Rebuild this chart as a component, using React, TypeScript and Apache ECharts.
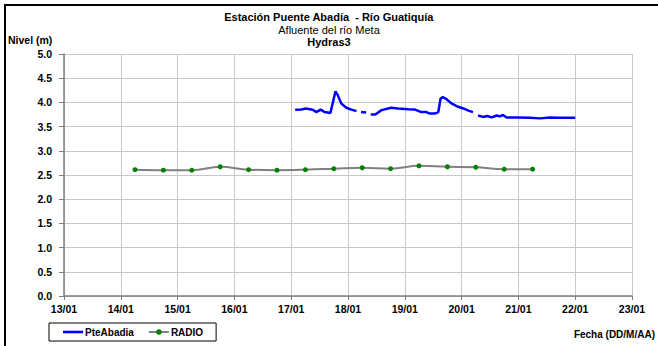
import React, { useEffect, useRef } from "react";
import * as echarts from "echarts";

const xTickDays = [13, 14, 15, 16, 17, 18, 19, 20, 21, 22, 23];
const yTicks = [0, 0.5, 1, 1.5, 2, 2.5, 3, 3.5, 4, 4.5, 5];

// PteAbadia (blue) – day of January, level (m); null = gap
const blueDays = [
  17.07, 17.18, 17.26, 17.38, 17.44, 17.52, 17.59, 17.69, 17.75, 17.78, 17.82, 17.88, 17.97, 18.06, 18.15,
  18.19,
  18.23, 18.32,
  18.36,
  18.40, 18.48, 18.59, 18.76, 18.88, 19.06, 19.17, 19.29, 19.38, 19.44, 19.53, 19.59, 19.63, 19.67, 19.73,
  19.82, 19.94, 20.03, 20.12, 20.20,
  20.25,
  20.29, 20.38, 20.45, 20.53, 20.62, 20.67, 20.73, 20.79, 20.97, 21.20, 21.38, 21.55, 21.73, 22.0,
];
const blueLevels = [
  3.85, 3.855, 3.875, 3.85, 3.8, 3.85, 3.8, 3.78, 4.08, 4.23, 4.15, 3.98, 3.89, 3.85, 3.82,
  null,
  3.8, 3.79,
  null,
  3.75, 3.75, 3.84, 3.89, 3.875, 3.86, 3.855, 3.8, 3.8, 3.77, 3.77, 3.8, 4.08, 4.11, 4.07,
  3.98, 3.91, 3.875, 3.83, 3.8,
  null,
  3.73, 3.7, 3.72, 3.69, 3.73, 3.71, 3.74, 3.69, 3.69, 3.685, 3.67, 3.69, 3.685, 3.685,
];

// RADIO (green points, gray line)
const radioDays = [14.25, 14.75, 15.25, 15.75, 16.25, 16.75, 17.25, 17.75, 18.25, 18.75, 19.25, 19.75, 20.25, 20.75, 21.25];
const radioLevels = [2.61, 2.6, 2.6, 2.67, 2.61, 2.6, 2.61, 2.63, 2.65, 2.63, 2.69, 2.67, 2.66, 2.62, 2.62];

const titleMain = "Estación Puente Abadía  - Río Guatiquía";
const titleSub = "Afluente del río Meta";
const titleThird = "Hydras3";
const yName = "Nivel (m)";
const xName = "Fecha (DD/M/AA)";

const FONT = "'Liberation Sans', Arial, sans-serif";

export default function App() {
  const ref = useRef<HTMLDivElement>(null);
  useEffect(() => {
    document.body.style.margin = "0";
    if (!ref.current) return;
    const chart = echarts.init(ref.current, null, { renderer: "svg" });
    const blueData = blueDays.map((d, i) => [d, blueLevels[i] === null ? "-" : blueLevels[i]]);
    const radioData = radioDays.map((d, i) => [d, radioLevels[i]]);
    chart.setOption({
      animation: false,
      backgroundColor: "#ffffff",
      textStyle: { fontFamily: FONT },
      grid: { left: 64, right: 26, top: 54, bottom: 50, containLabel: false },
      xAxis: {
        type: "value",
        min: xTickDays[0],
        max: xTickDays[xTickDays.length - 1],
        interval: 1,
        axisLine: { show: true, onZero: false, lineStyle: { color: "#7f7f7f", width: 1.5 } },
        axisTick: { show: true, inside: false, length: 4, lineStyle: { color: "#7f7f7f" } },
        axisLabel: {
          margin: 7,
          color: "#000",
          fontWeight: "bold",
          fontSize: 10.5,
          fontFamily: FONT,
          formatter: (v: number) => `${v}/01`,
        },
        splitLine: { show: true, lineStyle: { color: "#c8c8c8", width: 1 } },
      },
      yAxis: {
        type: "value",
        min: yTicks[0],
        max: yTicks[yTicks.length - 1],
        interval: 0.5,
        axisLine: { show: true, lineStyle: { color: "#7f7f7f", width: 1.5 } },
        axisTick: { show: true, inside: false, length: 5, lineStyle: { color: "#7f7f7f" } },
        axisLabel: {
          margin: 12,
          color: "#000",
          fontWeight: "bold",
          fontSize: 10.5,
          fontFamily: FONT,
          formatter: (v: number) => v.toFixed(1),
        },
        splitLine: { show: true, lineStyle: { color: "#c8c8c8", width: 1 } },
      },
      legend: {
        left: 49,
        top: 323,
        orient: "horizontal",
        borderColor: "#000",
        borderWidth: 1,
        borderRadius: 0,
        padding: [4, 13, 4, 14],
        itemGap: 14,
        itemWidth: 20,
        itemHeight: 7,
        textStyle: { color: "#000", fontWeight: "bold", fontSize: 10, fontFamily: FONT, padding: [0, 0, 0, -3] },
        data: [
          { name: "PteAbadia", icon: "path://M0,0H20V2.6H0Z" },
          { name: "RADIO" },
        ],
      },
      graphic: [
        {
          type: "rect",
          silent: true,
          shape: { x: 5, y: 5, width: 800, height: 500 },
          style: { fill: "none", stroke: "#000", lineWidth: 2 },
        },
        {
          type: "text",
          left: "center",
          top: 11,
          style: { text: titleMain, font: `bold 11px ${FONT}`, fill: "#000" },
        },
        {
          type: "text",
          left: "center",
          top: 24,
          style: { text: titleSub, font: `11px ${FONT}`, fill: "#000" },
        },
        {
          type: "text",
          left: "center",
          top: 36,
          style: { text: titleThird, font: `bold 11px ${FONT}`, fill: "#000" },
        },
        {
          type: "text",
          left: 8,
          top: 34,
          style: { text: yName, font: `bold 10.5px ${FONT}`, fill: "#000" },
        },
        {
          type: "text",
          right: 3,
          top: 329,
          style: { text: xName, font: `bold 10px ${FONT}`, fill: "#000" },
        },
      ],
      series: [
        {
          name: "PteAbadia",
          type: "line",
          data: blueData,
          symbol: "none",
          connectNulls: false,
          color: "#0000ff",
          lineStyle: { color: "#0000ff", width: 2.5 },
          z: 3,
        },
        {
          name: "RADIO",
          type: "line",
          data: radioData,
          smooth: 0.4,
          symbol: "circle",
          symbolSize: 5,
          showSymbol: true,
          color: "#008000",
          itemStyle: { color: "#008000" },
          lineStyle: { color: "#808080", width: 2 },
          z: 2,
        },
      ],
    });
    return () => chart.dispose();
  }, []);
  return <div ref={ref} style={{ width: 658, height: 346 }} />;
}
